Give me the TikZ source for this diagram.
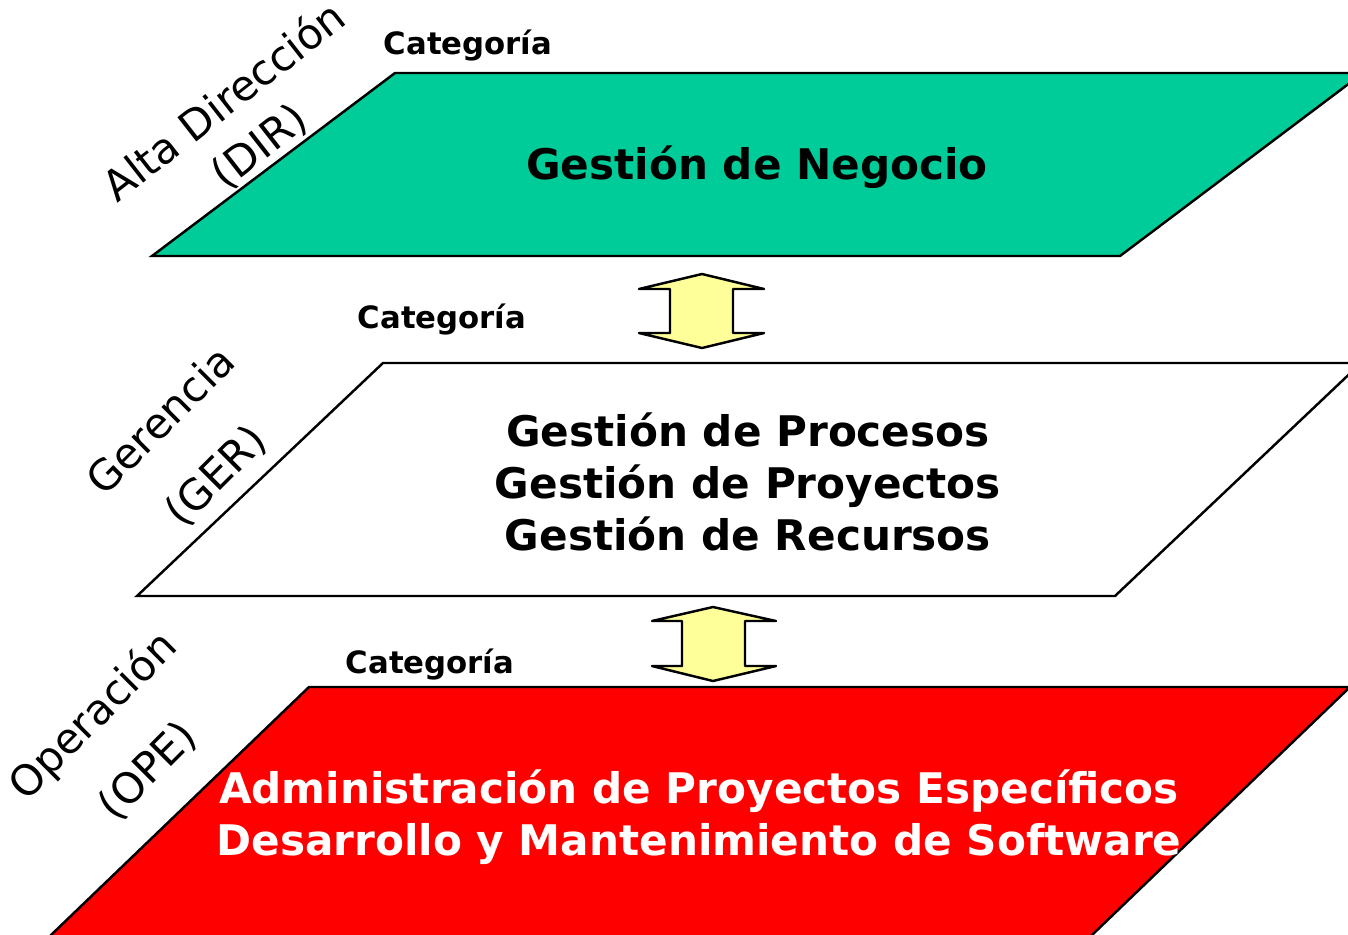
\documentclass[tikz,border=0pt]{standalone}
\usepackage{fontspec}
\setmainfont{DejaVu Sans}
\usepackage{xcolor}
\definecolor{mintgreen}{RGB}{0,204,153}
\definecolor{paleyellow}{RGB}{255,255,153}
\definecolor{brightred}{RGB}{255,0,0}
\tikzset{%
    level/.style={draw=black, line width=1.4pt, line join=miter},
    updown/.style={draw=black, fill=paleyellow, line width=1.4pt, line join=round},
    cat/.style={font=\fontsize{17.5}{20}\selectfont\bfseries},
    layer/.style={font=\fontsize{24}{#1}\selectfont, align=center},
    big/.style={font=\fontsize{24}{29.5}\selectfont\bfseries, align=center}
}

\begin{document}
\begin{tikzpicture}[x=0.02cm,y=-0.02cm]
\useasboundingbox (0,0) rectangle (1348,934);
\clip (0,0) rectangle (1348,934);

% the three levels
\filldraw[level, fill=mintgreen] (152,256) -- (395,73) -- (1363,73) -- (1120,256) -- cycle;
\filldraw[level, fill=white] (137,596) -- (383,363) -- (1361,363) -- (1115,596) -- cycle;
\filldraw[level, fill=brightred] (25,960) -- (309,687) -- (1350,687) -- (1066,960) -- cycle;

% double arrows between levels
\filldraw[updown] (702,274) -- (764,289) -- (733,289) -- (733,333) -- (764,333)
    -- (702,348) -- (639,333) -- (670,333) -- (670,289) -- (639,289) -- cycle;
\filldraw[updown] (713,607) -- (776,621) -- (745,621) -- (745,666) -- (776,666)
    -- (713,681) -- (652,666) -- (682,666) -- (682,621) -- (652,621) -- cycle;

\node[cat] (catdir) at (468,46) {Categoría};
\node[cat] (catger) at (442,320) {Categoría};
\node[cat] (catope) at (430,665) {Categoría};

\node[big] (negocio) at (757,167) {Gestión de Negocio};
\node[big] (gestion) at (748,482) {Gestión de Procesos\\Gestión de Proyectos\\Gestión de Recursos};
\node[big, text=white] (software) at (699,817) {Administración de Proyectos Específicos\\Desarrollo y Mantenimiento de Software};

\node[layer=32, rotate=38] (dir) at (242,124) {Alta Dirección\\(DIR)};
\node[layer=44, rotate=45] (ger) at (189,449) {Gerencia\\(GER)};
\node[layer=44, rotate=45] (ope) at (120,743) {Operación\\(OPE)};
\end{tikzpicture}
\end{document}
